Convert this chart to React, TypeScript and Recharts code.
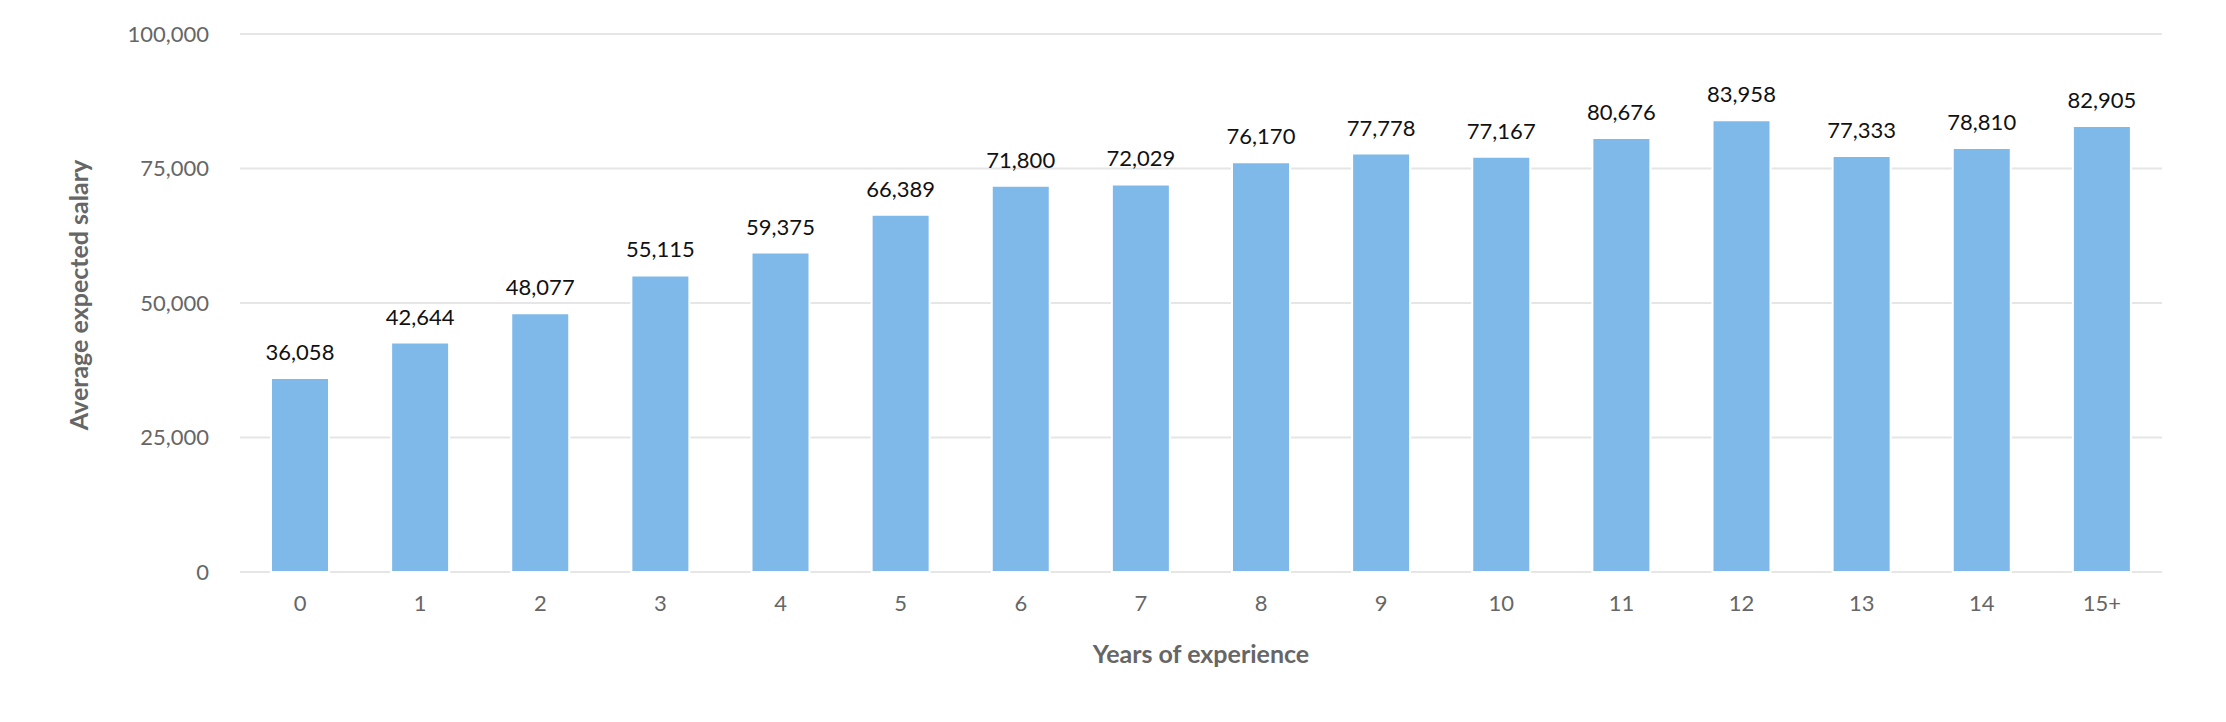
import React from "react";
import {
    BarChart,
    Bar,
    XAxis,
    YAxis,
    CartesianGrid,
    LabelList,
    Label
} from "recharts";

const years = ["0", "1", "2", "3", "4", "5", "6", "7", "8", "9", "10", "11", "12", "13", "14", "15+"];
const salaries = [36058, 42644, 48077, 55115, 59375, 66389, 71800, 72029, 76170, 77778, 77167, 80676, 83958, 77333, 78810, 82905];
const yTicks = [0, 25000, 50000, 75000, 100000];

const dados = years.map((ano, i) => ({ ano, salario: salaries[i] }));

const FONTE = "Lato, 'Open Sans', sans-serif";
const CINZA = "#666666";

const formatar = (v: number) => v.toLocaleString("en-US");

export default function App() {
    return (
        <div style={{ position: "absolute", left: 0, top: 0, width: 2226, height: 722, background: "#fff" }}>

            <BarChart
                width={2226}
                height={722}
                data={dados}
                margin={{ top: 34, right: 64, left: 0, bottom: 0 }}
            >

                <CartesianGrid vertical={false} stroke="#e6e6e6" strokeWidth={2} />

                <XAxis
                    dataKey="ano"
                    height={150}
                    axisLine={false}
                    tickLine={false}
                    tickSize={0}
                    tickMargin={23}
                    tick={{ fill: CINZA, fontSize: 22, fontFamily: FONTE }}
                    interval={0}
                >
                    <Label
                        content={(props: any) => {
                            const vb = props.viewBox;
                            return (
                                <text
                                    x={vb.x + vb.width / 2}
                                    y={vb.y + 81}
                                    textAnchor="middle"
                                    dominantBaseline="central"
                                    fill={CINZA}
                                    fontSize={25}
                                    fontWeight={700}
                                    fontFamily={FONTE}
                                >
                                    Years of experience
                                </text>
                            );
                        }}
                    />
                </XAxis>

                <YAxis
                    width={240}
                    domain={[0, 100000]}
                    ticks={yTicks}
                    axisLine={false}
                    tickLine={false}
                    tickSize={0}
                    tickMargin={31}
                    tickFormatter={formatar}
                    tick={{ fill: CINZA, fontSize: 22, fontFamily: FONTE }}
                >
                    <Label
                        content={(props: any) => {
                            const vb = props.viewBox;
                            const cx = vb.x + 78;
                            const cy = vb.y + vb.height / 2 - 8;
                            return (
                                <text
                                    x={cx}
                                    y={cy}
                                    transform={`rotate(-90 ${cx} ${cy})`}
                                    textAnchor="middle"
                                    dominantBaseline="central"
                                    fill={CINZA}
                                    fontSize={25}
                                    fontWeight={700}
                                    fontFamily={FONTE}
                                >
                                    Average expected salary
                                </text>
                            );
                        }}
                    />
                </YAxis>

                <Bar
                    dataKey="salario"
                    fill="#7EB9EA"
                    stroke="#ffffff"
                    strokeWidth={2}
                    barSize={58}
                    isAnimationActive={false}
                >
                    <LabelList
                        dataKey="salario"
                        position="top"
                        offset={18}
                        formatter={(v: any) => formatar(Number(v))}
                        fill="#111111"
                        fontSize={22}
                        fontFamily={FONTE}
                    />
                </Bar>

            </BarChart>

        </div>
    );
}
